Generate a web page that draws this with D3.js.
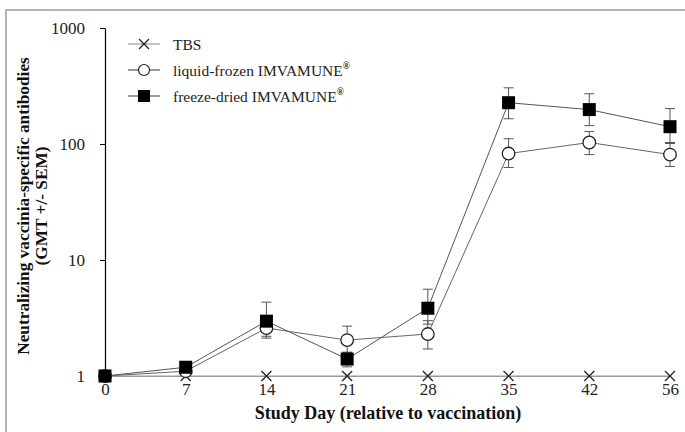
<!DOCTYPE html>
<html>
<head>
<meta charset="utf-8">
<script src="https://cdn.jsdelivr.net/npm/d3@7/dist/d3.min.js"></script>
<style>
  html, body { margin: 0; padding: 0; background: #fff; }
  svg { display: block; }
  svg text { font-family: "Liberation Serif", "Times New Roman", serif; }
</style>
</head>
<body>
<svg id="chart" width="685" height="432"></svg>
<script>
// Study days (categorical x axis)
const days = ["0", "7", "14", "21", "28", "35", "42", "56"];

// Geometric mean titers per group
const tbs          = [1, 1, 1, 1, 1, 1, 1, 1];
const liquidFrozen = [1, 1.10, 2.59, 2.04, 2.30, 82.7, 103, 81];
const freezeDried  = [1, 1.19, 2.97, 1.40, 3.84, 227, 198, 141];

// Error bar ends (GMT - SEM, GMT + SEM)
const liquidLow  = [1, 1.10, 2.12, 1.60, 1.71, 62.7, 81, 64];
const liquidHigh = [1, 1.10, 3.10, 2.69, 3.00, 111, 128, 103];
const freezeLow  = [1, 1.19, 2.20, 1.20, 2.80, 165, 144, 101];
const freezeHigh = [1, 1.19, 4.33, 1.60, 5.60, 305, 271, 202];

const yTicks = [1, 10, 100, 1000];

const svg = d3.select("#chart");

// outer frame
svg.append("rect")
  .attr("x", 6).attr("y", 10)
  .attr("width", 700).attr("height", 440)
  .attr("fill", "none").attr("stroke", "#9a9a9a").attr("stroke-width", 1.5);

const plotLeft = 105, plotRight = 670, plotTop = 28, plotBottom = 376;

const x = d3.scalePoint().domain(days).range([plotLeft, plotRight]);
const y = d3.scaleLog().domain([1, 1000]).range([plotBottom, plotTop]);

// x axis (grey baseline, no ticks)
const xAxis = svg.append("g").attr("transform", `translate(0,${plotBottom})`)
  .call(d3.axisBottom(x).tickSize(0).tickPadding(7));
xAxis.attr("font-family", null);
xAxis.select(".domain").attr("stroke", "#999").attr("stroke-width", 1.2);
xAxis.selectAll("text").attr("font-size", 17).attr("fill", "#222");

// y axis
const yAxis = svg.append("g").attr("transform", `translate(${plotLeft},0)`)
  .call(d3.axisLeft(y).tickValues(yTicks).tickFormat(d3.format("d")).tickSize(5).tickSizeOuter(0).tickPadding(15));
yAxis.attr("font-family", null);
yAxis.select(".domain").attr("stroke", "#000").attr("stroke-width", 1.2);
yAxis.selectAll(".tick line").attr("stroke", "#000");
yAxis.selectAll("text").attr("font-size", 17).attr("fill", "#222");

// axis titles
svg.append("text")
  .attr("x", 388).attr("y", 419)
  .attr("text-anchor", "middle")
  .attr("font-weight", "bold").attr("font-size", 18).attr("fill", "#111")
  .text("Study Day (relative to vaccination)");

const yt = svg.append("text")
  .attr("transform", "translate(29,206) rotate(-90)")
  .attr("text-anchor", "middle")
  .attr("font-weight", "bold").attr("font-size", 17.3).attr("fill", "#111");
yt.append("tspan").attr("x", 0).attr("dy", 0).text("Neutralizing vaccinia-specific antibodies");
yt.append("tspan").attr("x", 0).attr("dy", 18).text("(GMT +/- SEM)");

const line = d3.line().x((d, i) => x(days[i])).y(d => y(d));

function errorBars(low, high) {
  const g = svg.append("g").attr("stroke", "#555").attr("stroke-width", 1);
  days.forEach((d, i) => {
    if (low[i] === high[i]) return;
    const cx = x(d);
    g.append("line").attr("x1", cx).attr("x2", cx).attr("y1", y(low[i])).attr("y2", y(high[i]));
    g.append("line").attr("x1", cx - 5).attr("x2", cx + 5).attr("y1", y(low[i])).attr("y2", y(low[i]));
    g.append("line").attr("x1", cx - 5).attr("x2", cx + 5).attr("y1", y(high[i])).attr("y2", y(high[i]));
  });
}

// TBS line
svg.append("path").datum(tbs).attr("d", line)
  .attr("fill", "none").attr("stroke", "#999").attr("stroke-width", 1.2);

// error bars
errorBars(liquidLow, liquidHigh);
errorBars(freezeLow, freezeHigh);

// group lines
svg.append("path").datum(liquidFrozen).attr("d", line)
  .attr("fill", "none").attr("stroke", "#666").attr("stroke-width", 1);
svg.append("path").datum(freezeDried).attr("d", line)
  .attr("fill", "none").attr("stroke", "#555").attr("stroke-width", 1);

function crossMark(g, cx, cy, s) {
  g.append("path")
    .attr("d", `M${cx - s},${cy - s}L${cx + s},${cy + s}M${cx - s},${cy + s}L${cx + s},${cy - s}`)
    .attr("stroke", "#222").attr("stroke-width", 1.3).attr("fill", "none");
}

const tbsG = svg.append("g");
tbs.forEach((v, i) => crossMark(tbsG, x(days[i]), y(v), 5));

svg.append("g").selectAll("circle").data(liquidFrozen).join("circle")
  .attr("cx", (d, i) => x(days[i])).attr("cy", d => y(d)).attr("r", 6.3)
  .attr("fill", "#fff").attr("stroke", "#222").attr("stroke-width", 1.3);

svg.append("g").selectAll("rect").data(freezeDried).join("rect")
  .attr("x", (d, i) => x(days[i]) - 6.5).attr("y", d => y(d) - 6.5)
  .attr("width", 13).attr("height", 13).attr("fill", "#000");

// legend
const legendRows = [
  { label: "TBS", kind: "cross", sup: false },
  { label: "liquid-frozen IMVAMUNE", kind: "circle", sup: true },
  { label: "freeze-dried IMVAMUNE", kind: "square", sup: true }
];
const lg = svg.append("g");
legendRows.forEach((r, i) => {
  const cy = 44 + i * 26;
  lg.append("line").attr("x1", 128).attr("x2", 160).attr("y1", cy).attr("y2", cy)
    .attr("stroke", r.kind === "cross" ? "#999" : "#555").attr("stroke-width", 1.2);
  if (r.kind === "cross") {
    crossMark(lg, 144, cy, 5);
  } else if (r.kind === "circle") {
    lg.append("circle").attr("cx", 144).attr("cy", cy).attr("r", 5.5)
      .attr("fill", "#fff").attr("stroke", "#222").attr("stroke-width", 1.2);
  } else {
    lg.append("rect").attr("x", 138).attr("y", cy - 6).attr("width", 12).attr("height", 12).attr("fill", "#000");
  }
  const t = lg.append("text").attr("x", 173).attr("y", cy + 5.5)
    .attr("font-size", 15.5).attr("fill", "#222");
  t.append("tspan").text(r.label);
  if (r.sup) t.append("tspan").attr("dy", -7).attr("font-size", 9.5).attr("font-weight", "bold").text("®");
});
</script>
</body>
</html>
